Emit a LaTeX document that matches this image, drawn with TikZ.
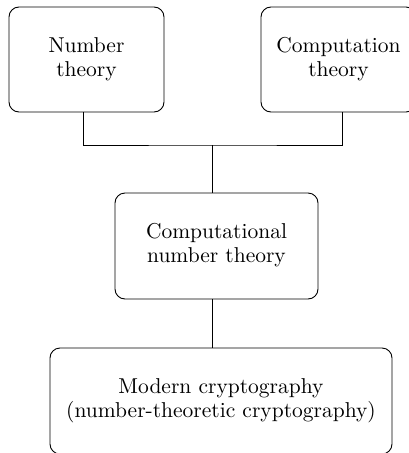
\documentclass[tikz,border=0pt]{standalone}
% body text is set at 10pt and enlarged, keeping the 10pt design of the font
\newcommand\boxtext[1]{\raisebox{-2pt}{\scalebox{2.15}{\fontsize{10}{11.2}\selectfont\begin{tabular}{@{}c@{}}#1\end{tabular}}}}
\begin{document}
\begin{tikzpicture}[x=1pt,y=-1pt,
  box/.style={draw, line width=0.9pt, rounded corners=10pt, inner sep=0pt,
    align=center},
  link/.style={line width=0.9pt}]
\useasboundingbox (0,0) rectangle (408,453);
\node[box, minimum width=155pt, minimum height=105pt] (nt) at (86.5,59.5) {\boxtext{Number\\theory}};
\node[box, minimum width=155pt, minimum height=105pt] (ct) at (338.5,59.5) {\boxtext{Computation\\theory}};
\node[box, minimum width=203pt, minimum height=106pt] (cnt) at (216.5,246) {\boxtext{Computational\\number theory}};
\node[box, minimum width=342pt, minimum height=106pt] (mc) at (221,401) {\boxtext{Modern cryptography\\(number-theoretic cryptography)}};
\coordinate (j) at (212.5,145);
% join the two sources, then run down the chain
\draw[link] ([xshift=-3.5pt]nt.south) |- (j) -| ([xshift=3.5pt]ct.south);
\draw[link] (j) -- (cnt.north -| j);
\draw[link] (cnt.south -| j) -- (mc.north -| j);
\end{tikzpicture}
\end{document}
